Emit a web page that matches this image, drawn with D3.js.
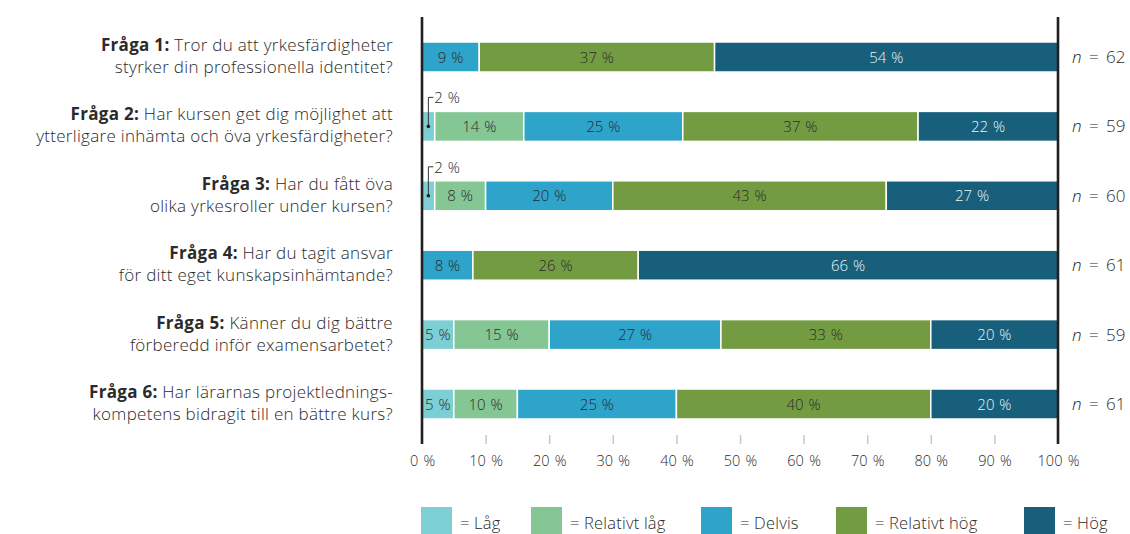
<!DOCTYPE html>
<html>
<head>
<meta charset="utf-8">
<script src="https://d3js.org/d3.v7.min.js"></script>
<style>
  body { margin: 0; background: #fff; }
  text { font-family: "Open Sans", Lato, sans-serif; fill: #2b2b2b; font-weight: 300; }
</style>
</head>
<body>
<svg id="chart" width="1130" height="534"></svg>
<script>
// data
var questions = ["Fråga 1", "Fråga 2", "Fråga 3", "Fråga 4", "Fråga 5", "Fråga 6"];
var qText = [
  ["Tror du att yrkesfärdigheter", "styrker din professionella identitet?"],
  ["Har kursen get dig möjlighet att", "ytterligare inhämta och öva yrkesfärdigheter?"],
  ["Har du fått öva", "olika yrkesroller under kursen?"],
  ["Har du tagit ansvar", "för ditt eget kunskapsinhämtande?"],
  ["Känner du dig bättre", "förberedd inför examensarbetet?"],
  ["Har lärarnas projektlednings-", "kompetens bidragit till en bättre kurs?"]
];
var nValues = [62, 59, 60, 61, 59, 61];
var categories = ["Låg", "Relativt låg", "Delvis", "Relativt hög", "Hög"];
var colors = ["#7ccfd2", "#85c695", "#2ea4cb", "#739c42", "#175f7b"];
var lag        = [0, 2, 2, 0, 5, 5];
var relLag     = [0, 14, 8, 0, 15, 10];
var delvis     = [9, 25, 20, 8, 27, 25];
var relHog     = [37, 37, 43, 26, 33, 40];
var hog        = [54, 22, 27, 66, 20, 20];
var ticks = [0, 10, 20, 30, 40, 50, 60, 70, 80, 90, 100];

var series = [lag, relLag, delvis, relHog, hog];
var rows = questions.map(function(q, i) {
  var o = { q: q };
  categories.forEach(function(c, j) { o[c] = series[j][i]; });
  return o;
});

var svg = d3.select("#chart");
var x = d3.scaleLinear().domain([0, 100]).range([422, 1058]);
var y = d3.scalePoint().domain(questions).range([57, 404]);
var color = d3.scaleOrdinal().domain(categories).range(colors);
var bh = 30;

var stack = d3.stack().keys(categories)(rows);

// bars
var layer = svg.append("g").selectAll("g").data(stack).enter().append("g")
  .attr("fill", function(d) { return color(d.key); });

layer.selectAll("rect").data(function(d) { return d.map(function(s) { s.key = d.key; return s; }); })
  .enter().filter(function(d) { return d[1] - d[0] > 0; })
  .append("rect")
  .attr("x", function(d) { return x(d[0]); })
  .attr("width", function(d) { return x(d[1]) - x(d[0]); })
  .attr("y", function(d) { return y(d.data.q) - bh / 2; })
  .attr("height", bh)
  .attr("stroke", "#fff").attr("stroke-width", 1.5);

// segment labels
layer.selectAll("text").data(function(d) { return d; })
  .enter().filter(function(d) { return d[1] - d[0] >= 4; })
  .append("text")
  .attr("x", function(d) { return (x(d[0]) + x(d[1])) / 2; })
  .attr("y", function(d) { return y(d.data.q) + 5.5; })
  .attr("text-anchor", "middle").attr("font-size", 15).attr("word-spacing", 1)
  .style("fill", function(d) { return d.key == "Hög" ? "#eef3f5" : "#2b2b2b"; })
  .text(function(d) { return (d[1] - d[0]) + " %"; });

// small segment callouts
var small = stack[0].filter(function(d) { return d[1] - d[0] > 0 && d[1] - d[0] < 4; });
small.forEach(function(d) {
  var cx = (x(d[0]) + x(d[1])) / 2, cy = y(d.data.q);
  svg.append("path")
    .attr("d", "M" + cx + "," + cy + "V" + (cy - 29) + "H" + (cx + 5))
    .attr("fill", "none").attr("stroke", "#333").attr("stroke-width", 1);
  svg.append("circle").attr("cx", cx).attr("cy", cy).attr("r", 1.8).attr("fill", "#222");
  svg.append("text").attr("x", cx + 6).attr("y", cy - 23)
    .attr("font-size", 15).attr("word-spacing", 1).text((d[1] - d[0]) + " %");
});

// axis lines
svg.selectAll("line.edge").data([0, 100]).enter().append("line")
  .attr("x1", function(d) { return x(d); }).attr("x2", function(d) { return x(d); })
  .attr("y1", 17).attr("y2", 444)
  .attr("stroke", "#231f20").attr("stroke-width", 2.6);

var xAxis = d3.axisBottom(x).tickValues(ticks).tickSize(9).tickFormat(function(d) { return d + " %"; });
var ax = svg.append("g").attr("transform", "translate(0,435)").call(xAxis);
ax.select(".domain").remove();
ax.selectAll(".tick line").attr("stroke", "#c8c8c8").attr("stroke-width", 1.5)
  .filter(function(d) { return d == 0 || d == 100; }).remove();
ax.selectAll(".tick text").attr("y", 21).attr("font-size", 14.5).attr("word-spacing", 1.5)
  .style("font-family", "'Open Sans', sans-serif").style("font-weight", 300).style("fill", "#2b2b2b");

// question labels
var ql = svg.append("g").selectAll("text").data(questions).enter().append("text")
  .attr("text-anchor", "end").attr("font-size", 17).attr("letter-spacing", 0.3)
  .attr("y", function(d) { return y(d) - 6; });
ql.append("tspan").attr("x", 393).attr("font-weight", "bold").text(function(d) { return d + ": "; });
ql.append("tspan").text(function(d, i) { return qText[i][0]; });
ql.append("tspan").attr("x", 393).attr("dy", 22).text(function(d, i) { return qText[i][1]; });

// n labels
var nl = svg.append("g").selectAll("text").data(questions).enter().append("text")
  .attr("x", 1072).attr("y", function(d) { return y(d) + 6; })
  .attr("font-size", 17).attr("word-spacing", 3);
nl.append("tspan").attr("font-style", "italic").text("n");
nl.append("tspan").text(function(d, i) { return " = " + nValues[i]; });

// legend
var legX = [421, 531, 701, 836, 1024];
var leg = svg.append("g").selectAll("g").data(categories).enter().append("g")
  .attr("transform", function(d, i) { return "translate(" + legX[i] + ",507)"; });
leg.append("rect").attr("width", 31).attr("height", 27).attr("fill", function(d) { return color(d); });
leg.append("text").attr("x", 39).attr("y", 22).attr("font-size", 16.5).attr("letter-spacing", 0.2)
  .text(function(d) { return "= " + d; });
</script>
</body>
</html>
